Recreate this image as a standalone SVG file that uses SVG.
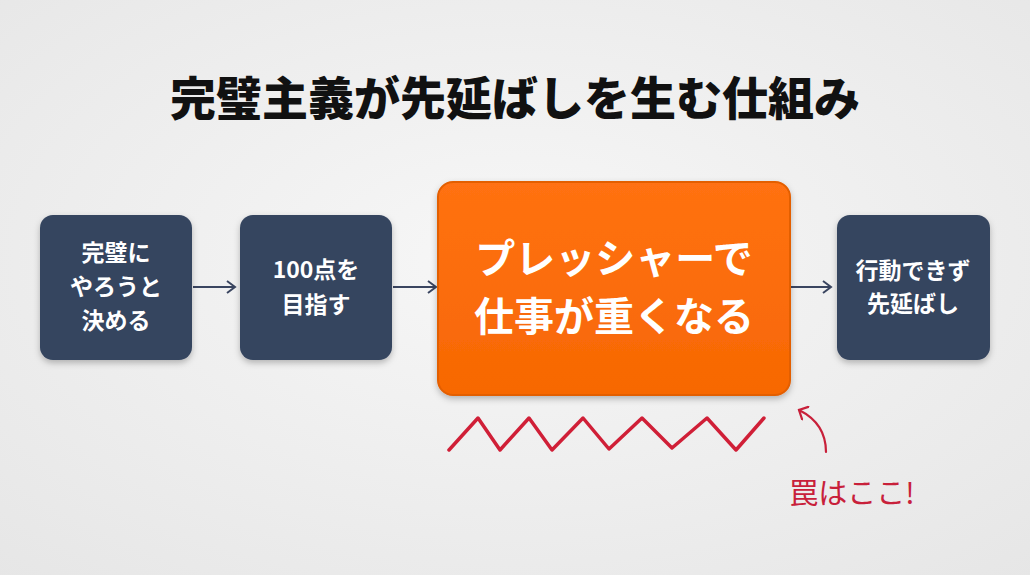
<svg xmlns="http://www.w3.org/2000/svg" width="1030" height="575" viewBox="0 0 1030 575">
<defs>
<radialGradient id="bg" cx="50%" cy="45%" r="75%">
<stop offset="0" stop-color="#f7f7f7"/>
<stop offset="1" stop-color="#e6e6e6"/>
</radialGradient>
<linearGradient id="og" x1="0" y1="0" x2="0" y2="1">
<stop offset="0" stop-color="#ff7112"/>
<stop offset="1" stop-color="#f76803"/>
</linearGradient>
<filter id="sh" x="-20%" y="-20%" width="140%" height="150%">
<feDropShadow dx="0" dy="3" stdDeviation="3" flood-color="#000" flood-opacity="0.25"/>
</filter>
<marker id="ah" markerWidth="14" markerHeight="14" refX="11" refY="7" orient="auto" markerUnits="userSpaceOnUse">
<path d="M3,1 L11,7 L3,13" fill="none" stroke="#3a4560" stroke-width="2"/>
</marker>
<marker id="rah" markerWidth="16" markerHeight="16" refX="8" refY="8" orient="auto" markerUnits="userSpaceOnUse">
<path d="M1,1 L8,8 L1,15" fill="none" stroke="#c8203a" stroke-width="2.2" stroke-linecap="round"/>
</marker>
<style>
.nb{fill:#34445f;filter:url(#sh)}
.t{font-family:"Noto Sans CJK JP","Noto Sans",sans-serif;font-weight:700;fill:#fff;text-anchor:middle}
.s{font-size:23px}
.l{font-size:40px}
.c{stroke:#3a4560;stroke-width:2;fill:none}
</style>
</defs>
<rect width="1030" height="575" fill="url(#bg)"/>
<text x="515" y="115" text-anchor="middle" font-family="&quot;Noto Sans CJK JP&quot;,sans-serif" font-weight="900" font-size="46" fill="#111">完璧主義が先延ばしを生む仕組み</text>
<g id="connectors">
<line class="c" x1="193" y1="287" x2="235" y2="287" marker-end="url(#ah)"/>
<line class="c" x1="393" y1="287" x2="436" y2="287" marker-end="url(#ah)"/>
<line class="c" x1="791" y1="287" x2="831" y2="287" marker-end="url(#ah)"/>
</g>
<g id="n1">
<rect class="nb" x="40" y="215" width="152" height="145" rx="13"/>
<text class="t s" x="116" y="261">完璧に</text>
<text class="t s" x="116" y="295">やろうと</text>
<text class="t s" x="116" y="329">決める</text>
</g>
<g id="n2">
<rect class="nb" x="240" y="215" width="152" height="145" rx="13"/>
<text class="t s" x="316" y="278">100点を</text>
<text class="t s" x="316" y="313">目指す</text>
</g>
<g id="n3">
<rect x="438" y="182" width="352" height="213" rx="15" fill="url(#og)" stroke="#e35e00" stroke-width="2" filter="url(#sh)"/>
<text class="t l" x="614" y="273">プレッシャーで</text>
<text class="t l" x="614" y="331">仕事が重くなる</text>
</g>
<g id="n4">
<rect class="nb" x="837" y="215" width="153" height="145" rx="13"/>
<text class="t s" x="913" y="279">行動できず</text>
<text class="t s" x="913" y="312">先延ばし</text>
</g>
<g id="annotation">
<polyline points="449,450 478,418 500,450 529,418 552,450 583,418 609,449 642,418 672,448 707,418 736,450 764,418" fill="none" stroke="#d01f37" stroke-width="3.5" stroke-linejoin="round" stroke-linecap="round"/>
<path d="M826,452 C826,432 815,418 799,410" fill="none" stroke="#c8203a" stroke-width="2.2" stroke-linecap="round" marker-end="url(#rah)"/>
<text x="852" y="504" text-anchor="middle" font-family="&quot;Noto Sans CJK JP&quot;,sans-serif" font-weight="400" font-size="29" fill="#c8203a">罠はここ!</text>
</g>
</svg>
